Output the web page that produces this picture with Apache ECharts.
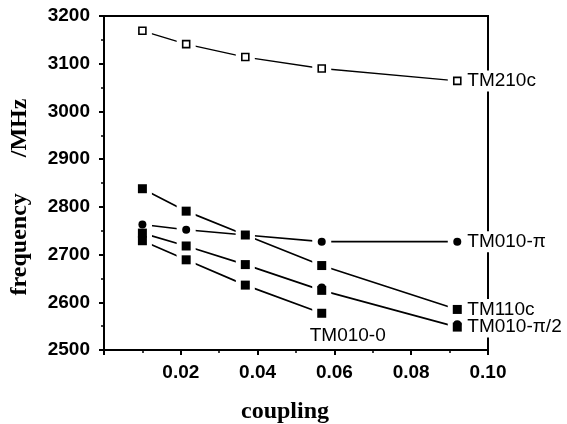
<!DOCTYPE html>
<html>
<head>
<meta charset="utf-8">
<script src="https://cdn.jsdelivr.net/npm/echarts@6/dist/echarts.min.js"></script>
<style>
  html, body { margin: 0; padding: 0; background: #fff; }
  #chart { width: 567px; height: 424px; }
</style>
</head>
<body>
<div id="chart"></div>
<script>
// coupling values where the modes were measured
const couplings = [0.01, 0.0214, 0.0368, 0.0567, 0.092];

// frequencies in MHz
const tm210c = [3169, 3141, 3114, 3090, 3064];
const tm110c = [2838, 2791, 2741, 2677, 2585];
const tm010Pi = [2763, 2752, 2741, 2727, 2727];
const tm010PiHalf = [2745, 2718, 2679, 2625, 2548];
const tm010PiHalfDots = [null, null, null, 2631, 2554];
const tm010Zero = [2729, 2689, 2636, 2577];

const xTicks = [0.02, 0.04, 0.06, 0.08, 0.10];

const modes = [
  { name: 'TM210c', values: tm210c, symbol: 'rect', open: true },
  { name: 'TM110c', values: tm110c, symbol: 'rect' },
  { name: 'TM010-π', values: tm010Pi, symbol: 'circle' },
  { name: 'TM010-π/2', values: tm010PiHalf, symbol: 'rect' },
  { name: 'TM010-0', values: tm010Zero, symbol: 'rect', labelBelow: true }
];

function pairs(values) {
  return values.map((v, i) => [couplings[i], v]);
}

const labelFont = { fontFamily: 'Liberation Sans', fontSize: 19, color: '#000' };
const series = [];

modes.forEach(m => {
  series.push({
    type: 'line',
    name: m.name,
    data: pairs(m.values),
    symbol: 'none',
    z: 2,
    lineStyle: { color: '#000', width: m.open ? 1.3 : 1.7 },
    endLabel: {
      show: true,
      formatter: m.name,
      ...labelFont,
      backgroundColor: '#fff',
      padding: [1, 2],
      distance: 8,
      offset: m.labelBelow ? [-22, 23] : [0, 0]
    }
  });
  // white halo so lines stop short of the markers
  series.push({
    type: 'scatter',
    data: pairs(m.values),
    symbol: 'rect',
    symbolSize: 19,
    z: 3,
    itemStyle: { color: '#fff', opacity: 1 },
    silent: true
  });
  series.push({
    type: 'scatter',
    data: pairs(m.values),
    symbol: m.symbol,
    symbolSize: m.open ? 7 : (m.symbol === 'circle' ? 8 : 9),
    z: 4,
    itemStyle: m.open
      ? { color: '#fff', borderColor: '#000', borderWidth: 1.6, opacity: 1 }
      : { color: '#000', opacity: 1 }
  });
});

series.push({
  type: 'scatter',
  data: pairs(tm010PiHalfDots).filter(p => p[1] !== null),
  symbol: 'circle',
  symbolSize: 8,
  z: 5,
  itemStyle: { color: '#000', opacity: 1 }
});

const chart = echarts.init(document.getElementById('chart'));
chart.setOption({
  animation: false,
  grid: {
    left: 104, right: 79, top: 16, bottom: 74,
    outerBoundsMode: 'none',
    show: true, borderColor: '#000', borderWidth: 2, backgroundColor: 'transparent'
  },
  xAxis: {
    type: 'value',
    min: 0,
    max: 0.1,
    interval: 0.02,
    name: 'coupling',
    nameLocation: 'middle',
    nameGap: 50,
    nameTextStyle: {
      fontFamily: 'Liberation Serif', fontWeight: 'bold', fontSize: 24, color: '#000',
      padding: [0, 22, 0, 0]
    },
    axisLine: { lineStyle: { color: '#000', width: 2 } },
    axisTick: { show: true, inside: false, length: 5, lineStyle: { color: '#000', width: 2 } },
    minorTick: { show: true, splitNumber: 2, length: 3, lineStyle: { color: '#000', width: 1.5 } },
    splitLine: { show: false },
    axisLabel: {
      margin: 13,
      fontFamily: 'Liberation Sans', fontWeight: 'bold', fontSize: 19, color: '#000',
      formatter: v => (xTicks.some(t => Math.abs(t - v) < 1e-9) ? v.toFixed(2) : '')
    }
  },
  yAxis: {
    type: 'value',
    min: 2500,
    max: 3200,
    interval: 100,
    name: 'frequency      /MHz',
    nameLocation: 'middle',
    nameGap: 72,
    nameRotate: 90,
    nameTextStyle: {
      fontFamily: 'Liberation Serif', fontWeight: 'bold', fontSize: 24, color: '#000',
      padding: [0, 28, 0, 0]
    },
    axisLine: { show: true, lineStyle: { color: '#000', width: 2 } },
    axisTick: { show: true, inside: false, length: 5, lineStyle: { color: '#000', width: 2 } },
    minorTick: { show: true, splitNumber: 2, length: 3, lineStyle: { color: '#000', width: 1.5 } },
    splitLine: { show: false },
    axisLabel: {
      margin: 14,
      fontFamily: 'Liberation Sans', fontWeight: 'bold', fontSize: 19, color: '#000',
      formatter: v => String(v)
    }
  },
  series: series
});
</script>
</body>
</html>
